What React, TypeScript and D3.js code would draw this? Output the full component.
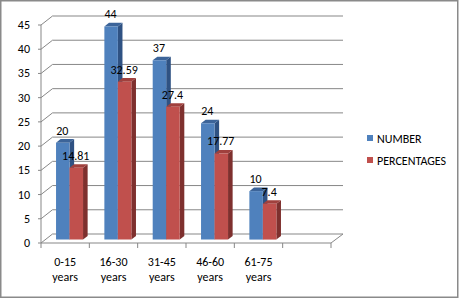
import React from "react";
import * as d3 from "d3";

const categories = ["0-15 years", "16-30 years", "31-45 years", "46-60 years", "61-75 years", ""];
const numberValues = [20, 44, 37, 24, 10];
const percentValues = [14.81, 32.59, 27.4, 17.77, 7.4];
const percentLabels = ["14.81", "32.59", "27.4", "17.77", "7.4"];
const yTicks = [0, 5, 10, 15, 20, 25, 30, 35, 40, 45];
const seriesNames = ["NUMBER", "PERCENTAGES"];

const W = 460, H = 299;
const DX = 11.5, DY = -9; // full depth offset
const BAR_D0 = 0.38, BAR_D1 = 0.78;
const FONT = "Carlito, Lato, 'Liberation Sans', sans-serif";
const FS = 12;

const blue = { front: "#4F81BD", side: "#2F5283", top: "#3C6499" };
const red = { front: "#C0504D", side: "#7E302E", top: "#A0403D" };

export default function App() {
  const x = d3.scaleBand<string>().domain(categories.map((c, i) => String(i))).range([41, 331]);
  const y = d3.scaleLinear().domain([0, 45]).range([243, 25]);
  const P = (fx: number, v: number, d: number): [number, number] => [fx + DX * d, y(v) + DY * d];
  const pts = (arr: [number, number][]) => arr.map(p => p.join(",")).join(" ");

  const barW = 13.5;
  const bars: JSX.Element[] = [];
  const labels: JSX.Element[] = [];
  numberValues.forEach((nv, i) => {
    const cx = (x(String(i)) as number) + x.bandwidth() / 2;
    const series = [
      { v: nv, x0: cx - barW, c: blue, lab: String(nv) },
      { v: percentValues[i], x0: cx, c: red, lab: percentLabels[i] },
    ];
    series.forEach((s, k) => {
      const x0 = s.x0, x1 = s.x0 + barW;
      const side = [P(x1, 0, BAR_D0), P(x1, 0, BAR_D1), P(x1, s.v, BAR_D1), P(x1, s.v, BAR_D0)];
      const top = [P(x0, s.v, BAR_D0), P(x1, s.v, BAR_D0), P(x1, s.v, BAR_D1), P(x0, s.v, BAR_D1)];
      const front = [P(x0, 0, BAR_D0), P(x1, 0, BAR_D0), P(x1, s.v, BAR_D0), P(x0, s.v, BAR_D0)];
      bars.push(
        <g key={`b${i}-${k}`}>
          <polygon points={pts(side)} fill={s.c.side} />
          <polygon points={pts(top)} fill={s.c.top} />
          <polygon points={pts(front)} fill={s.c.front} />
        </g>
      );
      const [lx, ly] = P(x0 + barW / 2, s.v, BAR_D0);
      labels.push(
        <text key={`l${i}-${k}`} x={lx - 0.5} y={ly - 8} textAnchor="middle" fontSize={FS} fill="#000" fontFamily={FONT}>
          {s.lab}
        </text>
      );
    });
  });

  const backRight = 343;
  return (
    <svg width={W} height={H} style={{ position: "absolute", left: 0, top: 0 }}>
      <rect x={0} y={0} width={W} height={H} fill="#fff" />
      <rect x={0.75} y={0.75} width={457} height={296.5} fill="none" stroke="#8a8a8a" strokeWidth={1.5} />
      {yTicks.map(t => {
        const a = P(41, t, 0), b = P(41, t, 1);
        return (
          <g key={`g${t}`}>
            <line x1={a[0] - 3} y1={a[1]} x2={a[0]} y2={a[1]} stroke="#878787" strokeWidth={1} />
            {t > 0 && <polyline points={pts([a, b, [backRight, b[1]]])} fill="none" stroke="#878787" strokeWidth={1} />}
          </g>
        );
      })}
      <polyline points={pts([P(41, 0, 0), P(41, 0, 1), [backRight, y(0) + DY], P(331, 0, 0), P(41, 0, 0)])} fill="none" stroke="#878787" strokeWidth={1} />
      <line x1={41} y1={y(0)} x2={41} y2={y(45)} stroke="#878787" strokeWidth={1} />
      {categories.map((c, i) => (
        <line key={`t${i}`} x1={x(String(i)) as number} x2={x(String(i)) as number} y1={y(0)} y2={y(0) + 5} stroke="#878787" />
      ))}
      <line x1={331} x2={331} y1={y(0)} y2={y(0) + 5} stroke="#878787" />
      {yTicks.map(t => (
        <text key={`yl${t}`} x={30} y={y(t) + 4} textAnchor="end" fontSize={FS} fontFamily={FONT} fill="#000">{t}</text>
      ))}
      {categories.map((c, i) => {
        if (!c) return null;
        const cx = (x(String(i)) as number) + x.bandwidth() / 2;
        const parts = c.split(" ");
        return (
          <text key={`xl${i}`} x={cx} y={266} textAnchor="middle" fontSize={FS} fontFamily={FONT} fill="#000">
            <tspan x={cx} dy={0}>{parts[0]}</tspan>
            <tspan x={cx} dy={15}>{parts[1]}</tspan>
          </text>
        );
      })}
      {bars}
      {labels}
      {seriesNames.map((s, i) => (
        <g key={`lg${i}`}>
          <rect x={367} y={135 + i * 22} width={6} height={6} fill={i === 0 ? blue.front : red.front} />
          <text x={377} y={142.5 + i * 22} fontSize={FS} fontFamily={FONT} fill="#000">{s}</text>
        </g>
      ))}
    </svg>
  );
}
